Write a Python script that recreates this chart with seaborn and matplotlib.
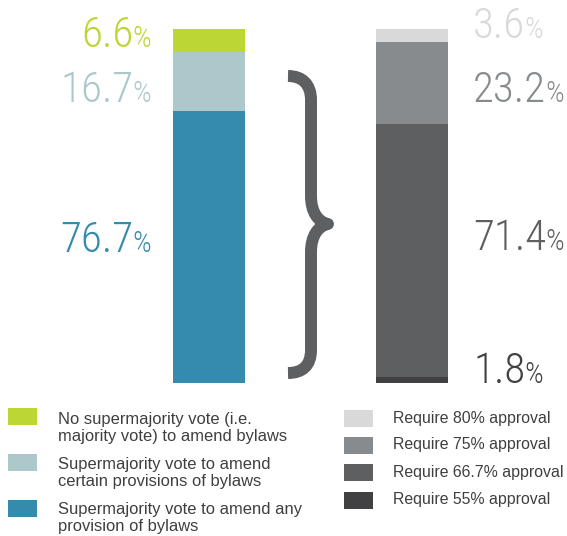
import matplotlib
matplotlib.use("Agg")
import matplotlib.pyplot as plt
import seaborn as sns
import pandas as pd
from matplotlib.path import Path
from matplotlib.patches import PathPatch, Rectangle

# ---------------- data ----------------
bars = ["Bylaw amendment vote", "Supermajority threshold"]

left_labels = [
    "No supermajority vote (i.e.\nmajority vote) to amend bylaws",
    "Supermajority vote to amend\ncertain provisions of bylaws",
    "Supermajority vote to amend any\nprovision of bylaws",
]
left_values = [6.6, 16.7, 76.7]          # top -> bottom

right_labels = [
    "Require 80% approval",
    "Require 75% approval",
    "Require 66.7% approval",
    "Require 55% approval",
]
right_values = [3.6, 23.2, 71.4, 1.8]    # top -> bottom

# ---------------- style ----------------
left_colors = ["#BCD633", "#ADC8CA", "#348BAE"]
right_colors = ["#D9D9D9", "#888B8D", "#5E5F61", "#414143"]
brace_color = "#5E5F61"
legend_text_color = "#3F3F41"

W, H = 567, 536
sns.set_theme(style="white")
num_font = ["Roboto Condensed", "Noto Sans", "Roboto", "DejaVu Sans"]
leg_font = ["Liberation Sans", "DejaVu Sans"]

fig = plt.figure(figsize=(W / 100, H / 100), dpi=100)
fig.patch.set_facecolor("white")

# bar axes: y 0..100 mapped to pixel rows 383..29
ax = fig.add_axes([0, (H - 383) / H, 1, 354 / H])

def segments(bar, values, colors):
    rows = []
    for i, (v, c) in enumerate(zip(values, colors)):
        rows.append({"bar": bar, "top": sum(values[i:]), "value": v, "color": c})
    return rows

rows = segments(bars[0], left_values, left_colors) + segments(bars[1], right_values, right_colors)
df = pd.DataFrame(rows).sort_values("top", ascending=False)

bar_w = 72 / 203
for _, r in df.iterrows():
    sns.barplot(data=pd.DataFrame([r]), x="bar", y="top", order=bars,
                color=r["color"], saturation=1, width=bar_w, linewidth=0,
                errorbar=None, ax=ax)

ax.set_xlim(-209 / 203, 1 + (W - 412) / 203)
ax.set_ylim(0, 100)
ax.axis("off")

# overlay axes in pixel coordinates
ax2 = fig.add_axes([0, 0, 1, 1])
ax2.set_xlim(0, W)
ax2.set_ylim(H, 0)
ax2.axis("off")

num_fs = 31
pct_fs = 21
num_kw = dict(family=num_font, fontweight="light", fontstretch="condensed")

left_label_y = [47, 102, 252]
right_label_y = [38, 102, 250, 383]

fig.canvas.draw()
renderer = fig.canvas.get_renderer()

# left labels: right aligned, % ends at x=151
for v, c, y in zip(left_values, left_colors, left_label_y):
    p = ax2.text(151, y, "%", ha="right", va="baseline", fontsize=pct_fs,
                 color=c, **num_kw)
    wpct = p.get_window_extent(renderer).width
    ax2.text(151 - wpct + 1, y, f"{v:.1f}", ha="right", va="baseline",
             fontsize=num_fs, color=c, **num_kw)

# right labels: left aligned at x=473
for v, c, y in zip(right_values, right_colors, right_label_y):
    t = ax2.text(473, y, f"{v:.1f}", ha="left", va="baseline",
                 fontsize=num_fs, color=c, **num_kw)
    wnum = t.get_window_extent(renderer).width
    ax2.text(473 + wnum - 1, y, "%", ha="left", va="baseline",
             fontsize=pct_fs, color=c, **num_kw)

# curly brace
verts = [
    (288, 76), (302, 76), (311, 84), (311, 100),
    (311, 196),
    (311, 212), (318, 222), (328, 224),
    (318, 226), (311, 236), (311, 252),
    (311, 350),
    (311, 366), (302, 373), (288, 373),
]
codes = [Path.MOVETO, Path.CURVE4, Path.CURVE4, Path.CURVE4,
         Path.LINETO,
         Path.CURVE4, Path.CURVE4, Path.CURVE4,
         Path.CURVE4, Path.CURVE4, Path.CURVE4,
         Path.LINETO,
         Path.CURVE4, Path.CURVE4, Path.CURVE4]
ax2.add_patch(PathPatch(Path(verts, codes), facecolor="none", edgecolor=brace_color,
                        lw=8.6, capstyle="butt", joinstyle="round"))

# legends (va='baseline' aligns the last line of multi-line text)
left_patch_y = [408, 454, 500]
left_text_y = [441, 486, 531]
for lab, c, py, ty in zip(left_labels, left_colors, left_patch_y, left_text_y):
    ax2.add_patch(Rectangle((8, py), 29, 17, facecolor=c, edgecolor="none"))
    ax2.text(58, ty, lab, ha="left", va="baseline", fontsize=11.9,
             color=legend_text_color, family=leg_font, linespacing=1.17)

right_patch_y = [410, 437, 464, 492]
right_text_y = [422.7, 449.5, 476.7, 504]
for lab, c, py, ty in zip(right_labels, right_colors, right_patch_y, right_text_y):
    ax2.add_patch(Rectangle((344, py), 29, 17, facecolor=c, edgecolor="none"))
    ax2.text(393, ty, lab, ha="left", va="baseline", fontsize=11.4,
             color=legend_text_color, family=leg_font)

fig.savefig("out.png", dpi=100, facecolor="white")
